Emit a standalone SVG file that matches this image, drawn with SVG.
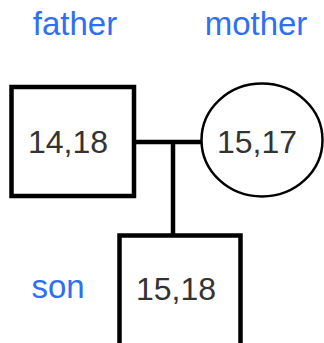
<svg xmlns="http://www.w3.org/2000/svg" width="324" height="343" viewBox="0 0 324 343">
<style>
.lbl{font-family:"Liberation Sans",Arial,sans-serif;font-size:33px;fill:#2f6ff2;text-anchor:middle}
.val{font-family:"Liberation Sans",Arial,sans-serif;font-size:32px;fill:#333;text-anchor:middle}
.box{fill:#fff;stroke:#000;stroke-width:4.5}
.line{stroke:#000;stroke-width:4.5;fill:none}
</style>
<rect width="324" height="343" fill="#fff"/>
<g id="connectors">
<line class="line" x1="134" y1="142" x2="202" y2="142"/>
<line class="line" x1="173" y1="142" x2="173" y2="236"/>
</g>
<g id="father">
<text class="lbl" x="75" y="35">father</text>
<rect class="box" x="11.5" y="87" width="122.5" height="109"/>
<text class="val" x="68" y="153">14,18</text>
</g>
<g id="mother">
<text class="lbl" x="256" y="35">mother</text>
<ellipse cx="262" cy="140" rx="60.5" ry="56.5" fill="#fff" stroke="#000" stroke-width="2.5"/>
<text class="val" x="257" y="153">15,17</text>
</g>
<g id="son">
<text class="lbl" x="58" y="298">son</text>
<rect class="box" x="119.5" y="235.5" width="121" height="120"/>
<text class="val" x="176" y="300">15,18</text>
</g>
</svg>
